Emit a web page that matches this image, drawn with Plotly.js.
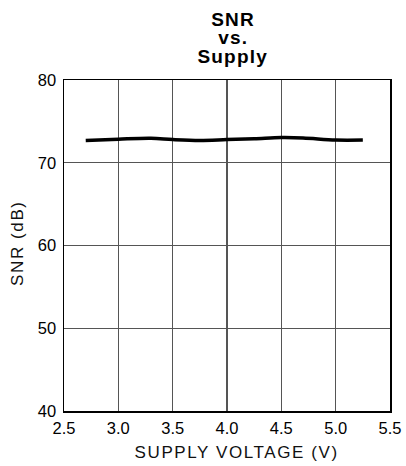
<!DOCTYPE html>
<html>
<head>
<meta charset="utf-8">
<script src="https://cdn.plot.ly/plotly-3.0.1.min.js"></script>
<style>html,body{margin:0;padding:0;background:#fff;}#chart{width:406px;height:466px;}</style>
</head>
<body>
<div id="chart"></div>
<script>
const supplyVoltage = [2.7, 3.0, 3.3, 3.5, 3.75, 4.0, 4.25, 4.5, 4.7, 5.0, 5.25];
const snrDb = [72.7, 72.85, 72.95, 72.8, 72.7, 72.8, 72.9, 73.05, 73.0, 72.75, 72.75];
const xTicks = [2.5, 3.0, 3.5, 4.0, 4.5, 5.0, 5.5];
const xTickLabels = ["2.5", "3.0", "3.5", "4.0", "4.5", "5.0", "5.5"];
const yTicks = [40, 50, 60, 70, 80];
const titleLines = ["SNR", "vs.", "Supply"];
const xTitle = "SUPPLY VOLTAGE (V)";
const yTitle = "SNR (dB)";

const font = "Liberation Sans, Arial, sans-serif";
const trace = {
  x: supplyVoltage, y: snrDb, type: "scatter", mode: "lines",
  line: {color: "#000", width: 3.5, shape: "spline", smoothing: 1.0},
  hoverinfo: "skip"
};
const titleY = [1.1837, 1.1293, 1.0725];
const annotations = titleLines.map((t, i) => ({
  text: "<b>" + t + "</b>", xref: "paper", yref: "paper",
  x: 0.518, y: titleY[i], xanchor: "center", yanchor: "middle",
  showarrow: false, font: {family: font, size: 19, color: "#000"}
}));
annotations.push({
  text: xTitle, xref: "paper", yref: "paper", x: 0.528, y: -0.124,
  xanchor: "center", yanchor: "middle", showarrow: false,
  font: {family: font, size: 17, color: "#111"}
});
annotations.push({
  text: yTitle, xref: "paper", yref: "paper", x: -0.1426, y: 0.5076,
  xanchor: "center", yanchor: "middle", showarrow: false, textangle: -90,
  font: {family: font, size: 17, color: "#111"}
});
const layout = {
  width: 406, height: 466,
  margin: {l: 64, r: 16, t: 80, b: 55},
  paper_bgcolor: "#fff", plot_bgcolor: "#fff",
  showlegend: false,
  font: {family: font, color: "#000"},
  annotations: annotations,
  xaxis: {
    range: [2.5, 5.5], tickvals: xTicks, ticktext: xTickLabels,
    showgrid: true, gridcolor: "#555", gridwidth: 1.3,
    showline: true, linecolor: "#000", linewidth: 1.5, mirror: true,
    ticks: "", zeroline: false, ticklabelstandoff: 2,
    tickfont: {family: font, size: 16.5, color: "#000"}
  },
  yaxis: {
    range: [40, 80], tickvals: yTicks,
    showgrid: true, gridcolor: "#555", gridwidth: 1.3,
    showline: true, linecolor: "#000", linewidth: 1.5, mirror: true,
    ticks: "", zeroline: false, ticklabelstandoff: 3,
    tickfont: {family: font, size: 16.5, color: "#000"}
  }
};
Plotly.newPlot("chart", [trace], layout, {staticPlot: true, displayModeBar: false}).then(() => {
  const texts = document.querySelectorAll("#chart .annotation-text");
  texts.forEach((el, i) => {
    el.style.letterSpacing = i < 3 ? "1.2px" : "1.6px";
  });
});
</script>
</body>
</html>
